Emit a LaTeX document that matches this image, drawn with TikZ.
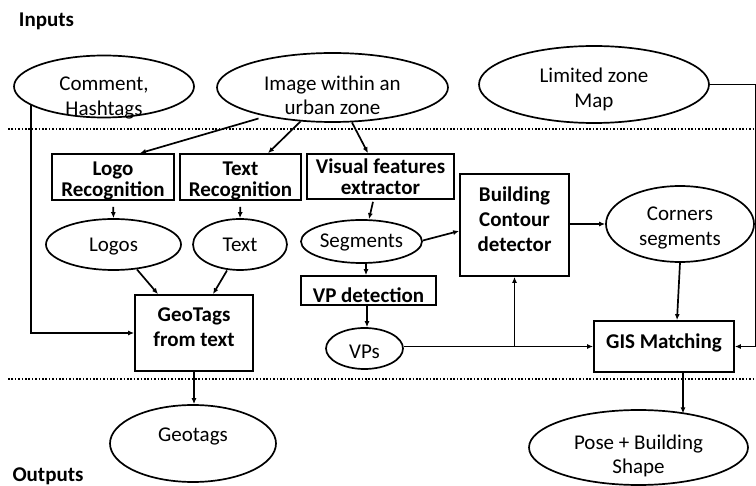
\documentclass[tikz,border=0pt]{standalone}
\usepackage{fontspec}
\setmainfont{Carlito}
\usetikzlibrary{shapes.geometric,arrows.meta,calc}
\tikzset{
  ell/.style={draw, ellipse, line width=1.7pt, inner sep=0pt},
  box/.style={draw, rectangle, line width=1.7pt, inner sep=0pt},
  txt/.style={align=center, font=\fontsize{21}{24.5}\selectfont},
  btxt/.style={align=center, font=\bfseries\fontsize{21}{20.5}\selectfont},
  btxtw/.style={align=center, font=\bfseries\fontsize{21}{25}\selectfont},
  arr/.style={line width=1.7pt, -{Latex[length=6pt,width=5pt]}},
  sepline/.style={line width=1.6pt, dash pattern=on 1.6pt off 1.8pt}
}
\begin{document}
\begin{tikzpicture}[x=1pt,y=-1pt]
\useasboundingbox (0,0) rectangle (756,486);

% section titles
\node[btxt, anchor=base] (inputs) at (46.5,27) {Inputs};
\node[btxt, anchor=base] (outputs) at (48,482) {Outputs};

% separators
\draw[sepline] (8,129) -- (754,129);
\draw[sepline] (8,379) -- (754,379);

% input ellipses
\node[ell, minimum width=180pt, minimum height=62pt,
  label={[txt,yshift=-11.5pt]center:{Comment,\\Hashtags}}] (comment) at (104,86.5) {};
\node[ell, minimum width=231pt, minimum height=69pt,
  label={[txt,yshift=-8pt]center:{Image within an\\urban zone}}] (image) at (332.5,87.5) {};
\node[ell, minimum width=230pt, minimum height=77pt,
  label={[txt,yshift=-5pt]center:{Limited zone\\Map}}] (map) at (594,84.5) {};

% processing boxes
\node[box, minimum width=122pt, minimum height=46pt,
  label={[btxt,yshift=-4pt]center:{Logo\\Recognition}}] (logoR) at (113,177) {};
\node[box, minimum width=121pt, minimum height=46pt,
  label={[btxt,yshift=-4pt]center:{Text\\Recognition}}] (textR) at (240.5,177) {};
\node[box, minimum width=147pt, minimum height=45pt,
  label={[btxt,yshift=0pt]center:{Visual features\\extractor}}] (visF) at (380.5,176.5) {};
\node[box, minimum width=109pt, minimum height=102pt,
  label={[btxtw,yshift=5.5pt]center:{Building\\Contour\\detector}}] (build) at (514.5,225) {};
\node[box, minimum width=135pt, minimum height=29pt,
  label={[btxt,yshift=-4.5pt]center:{VP detection}}] (vpd) at (368.5,290.5) {};
\node[box, minimum width=118pt, minimum height=76pt,
  label={[btxtw,yshift=5.5pt]center:{GeoTags\\from text}}] (geoT) at (194,333) {};
\node[box, minimum width=140pt, minimum height=51pt,
  label={[btxt,yshift=4pt]center:{GIS Matching}}] (gis) at (664,346.5) {};

% intermediate ellipses
\node[ell, minimum width=135pt, minimum height=51pt,
  label={[txt,yshift=-2.5pt]center:{Logos}}] (logos) at (113.5,244.5) {};
\node[ell, minimum width=94pt, minimum height=51pt,
  label={[txt,yshift=-0.5pt]center:{Text}}] (textE) at (240,244.5) {};
\node[ell, minimum width=121pt, minimum height=43pt,
  label={[txt,yshift=-1pt]center:{Segments}}] (segs) at (361.5,241.5) {};
\node[ell, minimum width=77pt, minimum height=41pt,
  label={[txt,yshift=-3.5pt]center:{VPs}}] (vps) at (364.5,348.5) {};
\node[ell, minimum width=148pt, minimum height=76pt,
  label={[txt,yshift=-4pt]center:{Corners\\segments}}] (corners) at (680,224) {};

% output ellipses
\node[ell, minimum width=166pt, minimum height=77pt,
  label={[txt,yshift=7pt]center:{Geotags}}] (geotags) at (193,443.5) {};
\node[ell, minimum width=219pt, minimum height=75pt,
  label={[txt,yshift=-8.5pt]center:{Pose + Building\\Shape}}] (pose) at (638.5,447.5) {};

% helper coordinates
\coordinate (rc) at (755.5,84.5);
\coordinate (j) at (build.south |- gis.west);

% connectors
\draw[arr] ($(image.center)+(-74,31)$) -- ($(logoR.north)+(27,0)$);
\draw[arr] ($(image.center)+(-32,34)$) -- ($(textR.north)+(27.5,0)$);
\draw[arr] ($(image.center)+(19.5,35)$) -- ($(visF.north)+(-12.5,0)$);
\draw[arr, shorten <=6pt] (logoR.south) -- (logos.north);
\draw[arr, shorten <=6pt] (textR.south) -- (textE.north);
\draw[arr] ($(visF.south)+(-7.5,2)$) -- ($(segs.north)+(7.5,0)$);
\draw[arr] ($(logos.center)+(23.5,25)$) -- ($(geoT.north)+(-36,0)$);
\draw[arr] ($(textE.center)+(-13,26)$) -- ($(geoT.north)+(19,0)$);
\draw[arr] ($(comment.center)+(-73,18)$) |- (geoT.west);
\draw[arr] (geoT.south) -- (geoT.south |- geotags.north);
\draw[arr] ($(segs.south)+(4.5,0)$) -- ($(vpd.north)+(-2.5,0)$);
\draw[arr] ($(vpd.south)+(-1.5,0)$) -- ($(vps.north)+(2.5,0)$);
\draw[arr] ($(segs.east)+(0,-1)$) -- ($(build.west)+(0,6)$);
\draw[arr] (build.east |- corners.west) -- (corners.west);
\draw[arr] (vps.east |- gis.west) -- (gis.west);
\draw[arr] (j) -- (build.south);
\draw[arr] (corners.south) -- ($(gis.north)+(13,0)$);
\draw[arr] ($(gis.south)+(19,0)$) -- ($(pose.center)+(44.5,-34)$);
\draw[arr] (map.east) -- (map.east -| rc) |- (gis.east);
\end{tikzpicture}
\end{document}
